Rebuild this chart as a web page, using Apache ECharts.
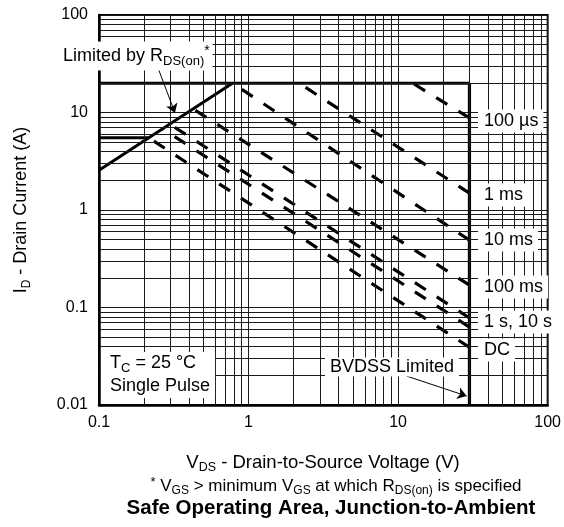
<!DOCTYPE html>
<html><head><meta charset="utf-8">
<script src="https://cdn.jsdelivr.net/npm/echarts@6/dist/echarts.min.js"></script>
<style>html,body{margin:0;padding:0;background:#fff}#c{width:564px;height:527px}</style>
</head><body><div id="c"></div>
<script>
// ---- data ----
const xTickLabels = ['0.1', '1', '10', '100'];
const yTickLabels = ['0.01', '0.1', '1', '10', '100'];
const xMinorGrid = [0.2,0.3,0.4,0.5,0.6,0.7,0.8,0.9, 2,3,4,5,6,7,8,9, 20,30,40,50,60,70,80,90];
const yMinorGrid = [0.02,0.03,0.04,0.05,0.06,0.07,0.08,0.09, 0.2,0.3,0.4,0.5,0.6,0.7,0.8,0.9,
                    2,3,4,5,6,7,8,9, 20,30,40,50,60,70,80,90];
const rdsLimit = [[0.1, 2.56], [0.78, 20]];
const currentLimit = [[0.1, 20], [30, 20]];
const bvdssLimit = [[30, 20], [30, 0.01]];
const dcContinuous = [[0.1, 5.5], [0.215, 5.5]];
const pulse100us = [[30, 8.8], [12.5, 20]];
const pulse1ms = [[30, 1.49], [2.17, 20]];
const pulse10ms = [[30, 0.49], [0.78, 20]];
const pulse100ms = [[30, 0.17], [0.425, 10.9]];
const pulse1s = [[30, 0.078], [0.298, 7.6]];
const pulse10s = [[30, 0.063], [0.266, 6.8]];
const pulseDC = [[30, 0.039], [0.215, 5.5]];
const rdsArrow = [[0.244, 30.7], [0.322, 9.9]];
const bvdssArrow = [[11.4, 0.0198], [28.7, 0.01236]];

const FONT = "'Liberation Sans', Arial, Helvetica, sans-serif";
const chart = echarts.init(document.getElementById('c'));

function fmt(list) {
  return function (v) {
    for (const s of list) { if (Math.abs(Math.log10(Number(s)) - Math.log10(v)) < 1e-6) return s; }
    return '';
  };
}
function solid(name, data, w) {
  return { type: 'line', name, data, symbol: 'none', silent: true, animation: false, z: 4,
    lineStyle: { color: '#000', width: w, type: 'solid', cap: 'butt' } };
}
function dashed(name, data) {
  return { type: 'line', name, data, symbol: 'none', silent: true, animation: false, z: 3,
    lineStyle: { color: '#000', width: 3.2, type: [13, 13], cap: 'butt' } };
}
const gridLines = [...xMinorGrid.map(v => ({ xAxis: v })), ...yMinorGrid.map(v => ({ yAxis: v }))];

function rich(size, subSize) {
  const lh = Math.round(size * 1.25);
  return {
    n: { fontSize: size, lineHeight: lh, fontFamily: FONT, fill: '#000', color: '#000' },
    s: { fontSize: subSize, lineHeight: subSize, verticalAlign: 'bottom', fontFamily: FONT, fill: '#000', color: '#000' },
    p: { fontSize: subSize + 1, lineHeight: subSize + 1, verticalAlign: 'top', fontFamily: FONT, fill: '#000', color: '#000' },
    b: { fontSize: size, lineHeight: lh, fontWeight: 'bold', fontFamily: FONT, fill: '#000', color: '#000' }
  };
}
function label(x, y, text, pad, size) {
  size = size || 18;
  return { type: 'text', x, y, z: 20, silent: true,
    style: { text, rich: rich(size, Math.round(size * 0.7)), fontSize: size, fontFamily: FONT, fill: '#000', align: 'left',
      verticalAlign: 'middle', backgroundColor: '#fff', padding: pad } };
}
function plain(x, y, text, size, subSize) {
  return { type: 'text', x, y, z: 20, silent: true,
    style: { text, rich: rich(size, subSize), fontSize: size, fontFamily: FONT, fill: '#000', align: 'center',
      verticalAlign: 'middle' } };
}

chart.setOption({
  backgroundColor: '#fff',
  animation: false,
  grid: { left: 99, right: 16, top: 15, bottom: 122, show: true, borderColor: '#000', borderWidth: 2, backgroundColor: 'transparent' },
  xAxis: {
    type: 'log', logBase: 10, min: 0.1, max: 100,
    axisLine: { show: true, lineStyle: { color: '#000', width: 2.5 } },
    axisTick: { show: false },
    splitLine: { show: true, lineStyle: { color: '#1a1a1a', width: 1 } },
    axisLabel: { color: '#000', fontSize: 16, fontFamily: FONT, margin: 10, formatter: fmt(xTickLabels) }
  },
  yAxis: {
    type: 'log', logBase: 10, min: 0.01, max: 100,
    axisLine: { show: true, lineStyle: { color: '#000', width: 2.5 } },
    axisTick: { show: false },
    splitLine: { show: true, lineStyle: { color: '#1a1a1a', width: 1 } },
    axisLabel: { color: '#000', fontSize: 16, fontFamily: FONT, margin: 11, formatter: fmt(yTickLabels) },
    name: '{n|I}{s|D}{n| - Drain Current (A)}',
    nameLocation: 'middle', nameGap: 66, nameRotate: 90,
    nameTextStyle: { rich: rich(18, 12), fontSize: 18, fontFamily: FONT, color: '#000' }
  },
  graphic: [
    label(60, 56, '{n|Limited by R}{s|DS(on)}{p|*}', [3, 3, 3, 3]),
    label(478, 121, '{n|100 µs}', [0, 5, 0, 6]),
    label(478, 195, '{n|1 ms}', [0, 5, 0, 6]),
    label(478, 240, '{n|10 ms}', [0, 5, 0, 6]),
    label(478, 287, '{n|100 ms}', [0, 5, 0, 6]),
    label(478, 322, '{n|1 s, 10 s}', [0, 4, 0, 6]),
    label(478, 350, '{n|DC}', [0, 5, 0, 6]),
    label(325, 367, '{n|BVDSS Limited}', [-2, 5, -2, 5]),
    label(101, 375, '{n|T}{s|C}{n| = 25 °C}\n{n|Single Pulse}', [0, 5, 0, 9]),
    plain(323, 463, '{n|V}{s|DS}{n| - Drain-to-Source Voltage (V)}', 18.5, 12.5),
    plain(336, 486, '{p|*}{n| V}{s|GS}{n| > minimum V}{s|GS}{n| at which R}{s|DS(on)}{n| is specified}', 17, 12),
    plain(331, 508, '{b|Safe Operating Area, Junction-to-Ambient}', 20.5, 13)
  ],
  series: [
    { type: 'line', name: 'grid', data: [], silent: true, animation: false, z: 1,
      markLine: { silent: true, animation: false, symbol: ['none', 'none'], label: { show: false },
        lineStyle: { color: '#1a1a1a', width: 1, type: 'solid' }, data: gridLines } },
    { type: 'line', name: 'arrows', data: [], silent: true, animation: false, z: 5,
      markLine: { silent: true, animation: false, symbol: ['none', 'arrow'], symbolSize: 9, label: { show: false },
        lineStyle: { color: '#000', width: 1, type: 'solid' },
        data: [
          [{ coord: rdsArrow[0] }, { coord: rdsArrow[1] }],
          [{ coord: bvdssArrow[0] }, { coord: bvdssArrow[1] }]
        ] } },
    solid('RDS(on) limit', rdsLimit, 3),
    solid('ID limit', currentLimit, 3),
    solid('BVDSS limit', bvdssLimit, 3.2),
    solid('DC continuous', dcContinuous, 3),
    dashed('100 µs', pulse100us),
    dashed('1 ms', pulse1ms),
    dashed('10 ms', pulse10ms),
    dashed('100 ms', pulse100ms),
    dashed('1 s', pulse1s),
    dashed('10 s', pulse10s),
    dashed('DC', pulseDC)
  ]
});
</script></body></html>
